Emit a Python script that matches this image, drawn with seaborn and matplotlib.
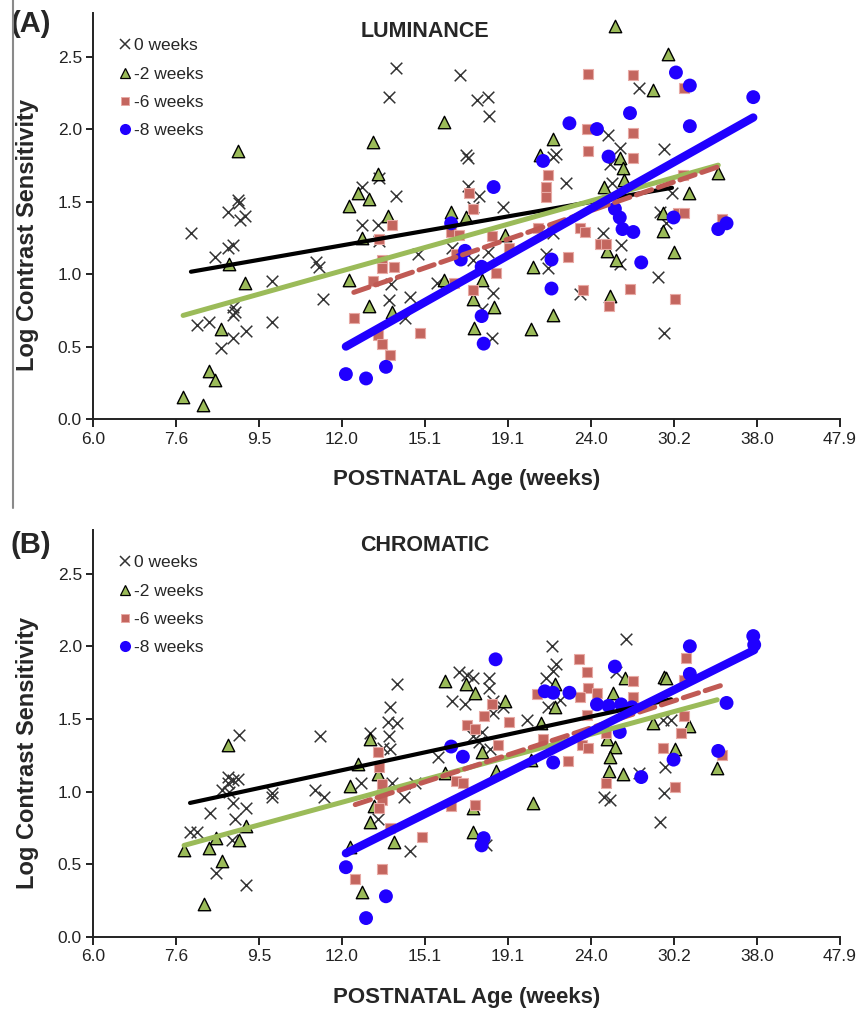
import matplotlib
matplotlib.use("Agg")
import matplotlib.pyplot as plt
from matplotlib.lines import Line2D
import seaborn as sns
import numpy as np
import pandas as pd

# axis ticks as printed on the original figure (log2 spaced ages)
x_tick_labels = ["6.0", "7.6", "9.5", "12.0", "15.1", "19.1", "24.0", "30.2", "38.0", "47.9"]
y_ticks = [0.0, 0.5, 1.0, 1.5, 2.0, 2.5]
groups = ["0 weeks", "-2 weeks", "-6 weeks", "-8 weeks"]

# (A) LUMINANCE
lum_0_age = [7.88, 8.98, 9.0, 8.74, 9.03, 9.16, 8.86, 8.74, 8.43, 11.16, 11.26, 9.88, 11.38, 8.86, 8.9,
             8.86, 8.02, 8.29, 9.18, 8.86, 8.57, 9.88, 13.95, 13.68, 13.3, 13.95, 12.69, 12.69, 13.27,
             13.3, 14.83, 13.75, 13.68, 14.5, 14.3, 15.63, 16.67, 17.47, 18.02, 18.06, 16.95, 17.03,
             17.03, 17.57, 18.79, 17.28, 18.02, 17.28, 18.27, 17.72, 18.2, 16.3, 27.43, 25.16, 26.0,
             29.4, 21.77, 21.6, 22.4, 25.3, 25.45, 30.07, 29.1, 29.6, 21.2, 21.3, 24.8, 26.1, 26.0,
             28.9, 23.3, 29.4, 21.6]
lum_0_lcs = [1.28, 1.51, 1.49, 1.43, 1.37, 1.40, 1.20, 1.18, 1.12, 1.08, 1.05, 0.95, 0.83, 0.77, 0.74,
             0.72, 0.65, 0.67, 0.61, 0.56, 0.49, 0.67, 2.42, 2.22, 1.66, 1.54, 1.60, 1.34, 1.34,
             1.23, 1.14, 0.93, 0.82, 0.84, 0.70, 0.94, 2.37, 2.20, 2.22, 2.09, 1.82, 1.80,
             1.61, 1.54, 1.46, 1.46, 1.15, 1.10, 0.87, 0.76, 0.56, 1.18, 2.28, 1.96, 1.87,
             1.86, 1.83, 1.81, 1.63, 1.76, 1.63, 1.56, 1.43, 1.35, 1.14, 1.04, 1.28, 1.20, 1.07,
             0.98, 0.86, 0.59, 1.28]

lum_2_age = [8.98, 13.08, 13.27, 12.55, 12.94, 12.24, 13.64, 12.69, 8.76, 9.16, 12.24, 12.94, 13.8, 8.57,
             8.29, 8.43, 7.71, 8.15, 15.94, 16.26, 16.95, 15.94, 17.7, 17.28, 18.3, 17.33, 18.9, 25.65,
             29.7, 28.5, 21.6, 20.8, 26.0, 26.2, 26.3, 24.9, 31.5, 34.2, 29.3, 29.3, 25.1, 25.7, 30.2,
             20.4, 25.3, 21.6, 20.3]
lum_2_lcs = [1.85, 1.91, 1.69, 1.56, 1.52, 1.47, 1.40, 1.25, 1.07, 0.94, 0.96, 0.78, 0.74, 0.62,
             0.33, 0.27, 0.15, 0.10, 2.05, 1.43, 1.39, 0.96, 0.96, 0.83, 0.77, 0.63, 1.27, 2.71,
             2.52, 2.27, 1.93, 1.82, 1.80, 1.73, 1.65, 1.60, 1.56, 1.70, 1.42, 1.30, 1.16, 1.10, 1.15,
             1.05, 0.85, 0.72, 0.62]

lum_6_age = [17.1, 17.3, 13.8, 16.26, 13.3, 16.6, 18.2, 19.1, 16.5, 13.4, 13.4, 13.85, 13.08, 16.4, 17.3,
             18.4, 12.4, 14.9, 13.27, 13.4, 13.7, 23.8, 27.0, 31.1, 23.7, 27.0, 23.8, 27.0, 21.3, 21.2,
             21.2, 31.0, 30.6, 31.1, 34.6, 20.7, 23.3, 23.6, 24.6, 25.0, 22.5, 23.5, 26.75, 25.2, 30.3]
lum_6_lcs = [1.56, 1.45, 1.34, 1.29, 1.24, 1.27, 1.26, 1.18, 1.14, 1.10, 1.04, 1.05, 0.95, 0.94, 0.89,
             1.01, 0.70, 0.59, 0.58, 0.52, 0.44, 2.38, 2.37, 2.28, 2.00, 1.97, 1.85, 1.80, 1.68, 1.60,
             1.53, 1.68, 1.42, 1.42, 1.38, 1.32, 1.32, 1.29, 1.21, 1.21, 1.12, 0.89, 0.90, 0.78, 0.83]

lum_8_age = [12.13, 12.83, 13.56, 18.3, 16.26, 16.9, 16.7, 17.7, 17.7, 17.8, 22.6, 24.4, 26.75, 30.4, 31.6,
             31.6, 37.7, 25.2, 21.0, 25.65, 26.0, 26.2, 27.0, 30.2, 34.2, 35.0, 27.6, 21.5, 21.5]
lum_8_lcs = [0.31, 0.28, 0.36, 1.60, 1.35, 1.16, 1.10, 1.05, 0.71, 0.52, 2.04, 2.00, 2.11, 2.39, 2.30,
             2.02, 2.22, 1.81, 1.78, 1.45, 1.39, 1.31, 1.29, 1.39, 1.31, 1.35, 1.08, 1.10, 0.90]

# (B) CHROMATIC
chr_0_age = [9.0, 11.29, 12.97, 13.68, 13.72, 13.99, 13.64, 13.99, 13.45, 7.86, 8.02, 8.31, 8.45, 8.6, 8.74,
             8.74, 8.86, 8.98, 8.76, 8.86, 8.9, 8.83, 9.18, 9.18, 9.88, 9.88, 11.13, 11.4, 12.66, 13.72,
             13.27, 14.26, 14.5, 13.8, 14.7, 16.6, 16.97, 17.28, 18.06, 18.06, 16.3, 16.9, 18.27, 18.8,
             18.27, 17.72, 17.28, 17.57, 18.1, 15.68, 20.1, 17.9, 21.5, 26.45, 21.8, 21.6, 21.2, 25.7,
             22.0, 21.3, 24.9, 25.3, 29.5, 29.4, 29.1, 27.4, 29.3, 30.0]
chr_0_lcs = [1.39, 1.38, 1.40, 1.38, 1.58, 1.74, 1.48, 1.47, 1.30, 0.72, 0.72, 0.85, 0.44, 1.01, 1.06,
             1.10, 1.08, 1.09, 1.00, 0.92, 0.81, 0.67, 0.89, 0.36, 0.99, 0.96, 1.01, 0.96, 1.06, 1.29,
             0.81, 0.96, 0.59, 1.06, 1.06, 1.82, 1.80, 1.78, 1.78, 1.71, 1.62, 1.60, 1.62, 1.58,
             1.54, 1.41, 1.38, 1.34, 1.29, 1.24, 1.49, 0.63, 2.00, 2.05, 1.88, 1.83, 1.78, 1.82,
             1.63, 1.58, 0.96, 0.94, 1.17, 0.99, 0.79, 1.13, 1.49, 1.49]

chr_2_age = [8.74, 12.97, 12.55, 12.27, 13.27, 13.1, 12.97, 13.85, 12.7, 8.18, 7.73, 8.29, 8.6, 9.0, 8.45,
             9.18, 12.27, 15.97, 16.95, 17.4, 18.9, 17.7, 15.97, 17.3, 17.3, 18.4, 26.4, 29.4, 29.6,
             21.7, 21.7, 25.5, 28.5, 31.5, 25.1, 25.65, 25.3, 30.3, 25.2, 26.2, 34.1, 20.4, 20.3, 20.9]
chr_2_lcs = [1.32, 1.36, 1.19, 1.04, 1.12, 0.90, 0.79, 0.65, 0.31, 0.23, 0.60, 0.61, 0.52, 0.67, 0.68,
             0.76, 0.62, 1.76, 1.74, 1.68, 1.62, 1.27, 1.13, 0.72, 0.89, 1.14, 1.78, 1.79, 1.78,
             1.74, 1.58, 1.68, 1.47, 1.45, 1.36, 1.31, 1.24, 1.29, 1.14, 1.12, 1.16, 0.92, 1.22, 1.47]

chr_6_age = [13.27, 13.3, 13.4, 13.4, 13.3, 13.7, 15.0, 13.4, 12.45, 18.2, 17.8, 19.1, 17.0, 17.4, 18.5,
             16.5, 16.8, 16.26, 17.4, 23.2, 31.3, 23.7, 27.0, 23.8, 24.4, 23.3, 27.0, 20.65, 23.7, 31.1,
             30.8, 25.0, 23.4, 23.8, 21.0, 29.3, 22.5, 34.6, 25.0, 30.3, 31.1]
chr_6_lcs = [1.27, 1.17, 1.05, 0.94, 0.89, 0.75, 0.69, 0.47, 0.40, 1.60, 1.52, 1.48, 1.46, 1.43, 1.32,
             1.07, 1.06, 0.90, 0.91, 1.91, 1.92, 1.82, 1.76, 1.71, 1.68, 1.65, 1.65, 1.67, 1.53, 1.52,
             1.40, 1.40, 1.32, 1.30, 1.36, 1.30, 1.21, 1.25, 1.06, 1.03, 1.77]

chr_8_age = [12.13, 12.83, 13.56, 18.4, 16.26, 16.8, 17.8, 17.7, 31.6, 25.65, 31.6, 21.1, 21.6, 22.6, 24.4,
             25.2, 26.1, 26.9, 35.0, 26.0, 21.6, 30.2, 34.2, 27.6, 37.7, 37.8]
chr_8_lcs = [0.48, 0.13, 0.28, 1.91, 1.31, 1.24, 0.68, 0.63, 2.00, 1.86, 1.81, 1.69, 1.68, 1.68, 1.60,
             1.59, 1.60, 1.58, 1.61, 1.41, 1.20, 1.22, 1.28, 1.10, 2.07, 2.01]


def make_df(parts):
    frames = []
    for grp, age, lcs in parts:
        frames.append(pd.DataFrame({"age": age, "lcs": lcs, "group": grp}))
    return pd.concat(frames, ignore_index=True)


lum = make_df([("0 weeks", lum_0_age, lum_0_lcs), ("-2 weeks", lum_2_age, lum_2_lcs),
               ("-6 weeks", lum_6_age, lum_6_lcs), ("-8 weeks", lum_8_age, lum_8_lcs)])
chrom = make_df([("0 weeks", chr_0_age, chr_0_lcs), ("-2 weeks", chr_2_age, chr_2_lcs),
                 ("-6 weeks", chr_6_age, chr_6_lcs), ("-8 weeks", chr_8_age, chr_8_lcs)])

sns.set_style("ticks")
plt.rcParams["font.family"] = ["Liberation Sans", "DejaVu Sans"]

GREEN = "#9bbb59"
RED = "#c4665f"
BLUE = "#2000ff"
point_kw = {
    "0 weeks": dict(marker="x", s=70, color="#333333", linewidth=1.1),
    "-2 weeks": dict(marker="^", s=80, color=GREEN, edgecolor="black", linewidth=1.0),
    "-6 weeks": dict(marker="s", s=55, color=RED, edgecolor="#e8aaa5", linewidth=0.8),
    "-8 weeks": dict(marker="o", s=100, color=BLUE, edgecolor="none"),
}
line_kw = {
    "0 weeks": dict(color="black", lw=3.0),
    "-2 weeks": dict(color=GREEN, lw=3.6),
    "-6 weeks": dict(color="#c05a54", lw=3.6, dashes=(3.2, 1.4)),
    "-8 weeks": dict(color=BLUE, lw=6.0),
}

fig = plt.figure(figsize=(8.59, 10.1), dpi=100)
ax_a = fig.add_axes([0.1083, 0.5851, 0.8696, 0.4020])
ax_b = fig.add_axes([0.1083, 0.0723, 0.8696, 0.4030])


def draw_panel(ax, df, title, tag, tag_y, title_y):
    for g in groups:
        sub = df[df.group == g]
        sns.scatterplot(data=sub, x="age", y="lcs", ax=ax, legend=False, zorder=3, **point_kw[g])
    for g in groups:
        sub = df[df.group == g]
        sns.regplot(data=sub, x="age", y="lcs", ax=ax, scatter=False, logx=True, ci=None,
                    truncate=True, line_kws=dict(zorder=4, solid_capstyle="round",
                                                 dash_capstyle="round", **line_kw[g]))
    ax.set_xscale("log", base=2)
    xt = 6 * 2 ** (np.arange(len(x_tick_labels)) / 3)
    ax.set_xticks(xt)
    ax.set_xticklabels(x_tick_labels)
    ax.xaxis.set_minor_locator(matplotlib.ticker.NullLocator())
    ax.set_xlim(6, 48)
    ax.set_ylim(0, 2.8)
    ax.set_yticks(y_ticks)
    ax.set_yticklabels([f"{v:.1f}" for v in y_ticks])
    sns.despine(ax=ax)
    for sp in ["left", "bottom"]:
        ax.spines[sp].set_linewidth(1.4)
        ax.spines[sp].set_color("#222222")
    ax.tick_params(direction="out", length=5, width=1.4, labelsize=12.5, pad=3, colors="#222222")
    ax.tick_params(axis="x", length=6)
    ax.set_xlabel("POSTNATAL Age (weeks)", fontsize=16, fontweight="bold", labelpad=16.5)
    ax.set_ylabel("Log Contrast Sensitivity", fontsize=17, fontweight="bold")
    ax.yaxis.set_label_coords(-0.072, 0.453)
    ax.text(0.444, title_y, title, transform=ax.transAxes, ha="center", va="center",
            fontsize=15.5, fontweight="bold")
    ax.text(-0.111, tag_y, tag, transform=ax.transAxes, ha="left", va="center",
            fontsize=21, fontweight="bold")
    handles = [Line2D([], [], linestyle="", marker="x", color="#333333", markersize=7, mew=1.1),
               Line2D([], [], linestyle="", marker="^", markerfacecolor=GREEN, markeredgecolor="black",
                      markersize=7, mew=0.9),
               Line2D([], [], linestyle="", marker="s", markerfacecolor=RED, markeredgecolor="#e8aaa5",
                      markersize=6, mew=0.7),
               Line2D([], [], linestyle="", marker="o", markerfacecolor=BLUE, markeredgecolor="none",
                      markersize=8)]
    ax.legend(handles, groups, loc="upper left", bbox_to_anchor=(0.024, 0.955), frameon=False,
              fontsize=12.5, handlelength=0.8, handletextpad=0.15, labelspacing=0.76,
              borderaxespad=0)


draw_panel(ax_a, lum, "LUMINANCE", "(A)", 0.972, 0.955)
draw_panel(ax_b, chrom, "CHROMATIC", "(B)", 0.962, 0.962)

# thin grey frame edge on the left of the upper panel, as in the source figure
fig.add_artist(Line2D([13 / 859, 13 / 859], [1.0, 1 - 508 / 1010], transform=fig.transFigure,
                      color="#8a8a8a", lw=1.5))

fig.savefig("out.png", dpi=100)
plt.close(fig)
